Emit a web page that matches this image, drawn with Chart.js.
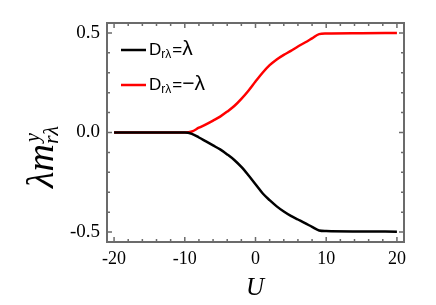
<!DOCTYPE html>
<html>
<head>
<meta charset="utf-8">
<script src="https://cdn.jsdelivr.net/npm/chart.js@4"></script>
<style>
  html, body { margin: 0; padding: 0; background: #fff; }
  #wrap { width: 436px; height: 305px; }
</style>
</head>
<body>
<div id="wrap"><canvas id="myChart"></canvas></div>
<script>
let uValues = [-20, -15, -10, -9, -8, -7, -6, -5, -4, -3, -2, -1, 0, 1, 2, 3, 4, 5, 6, 7, 8, 9, 10, 15, 20];
let blackValues = [0, 0, 0, -0.007, -0.025, -0.045, -0.065, -0.085, -0.11, -0.138, -0.173, -0.215, -0.26,
                   -0.305, -0.34, -0.371, -0.397, -0.419, -0.437, -0.455, -0.474, -0.492, -0.495, -0.497, -0.498];
let redValues = [0, 0, 0, 0.005, 0.024, 0.041, 0.06, 0.08, 0.105, 0.133, 0.169, 0.21, 0.256,
                 0.3, 0.338, 0.367, 0.39, 0.41, 0.432, 0.452, 0.473, 0.494, 0.497, 0.499, 0.5];
let xTicks = [-20, -10, 0, 10, 20];
let yTicks = [-0.5, 0.0, 0.5];
// legend pieces: [text, font size, baseline shift]
let seriesLabels = [
  [['D', 17, 0], ['rλ', 12, 3], ['=', 17, 0], ['λ', 21, 0]],
  [['D', 17, 0], ['rλ', 12, 3], ['=', 17, 0], ['−', 21, 0], ['λ', 21, 0]]
];
let colors = ['#000000', '#ff0000'];

const serif = '"Liberation Serif", "Times New Roman", serif';
const sans = '"Liberation Sans", Arial, sans-serif';
const axisGray = '#6b6b6b';

function points(ys) {
  return uValues.map((u, i) => ({ x: u, y: ys[i] }));
}

// frame with inward ticks on all four sides, plus legend and axis titles
const framePlugin = {
  id: 'frame',
  afterDraw(chart) {
    const ctx = chart.ctx;
    const a = chart.chartArea;
    const xs = chart.scales.x, ys = chart.scales.y;
    ctx.save();
    ctx.strokeStyle = axisGray;
    ctx.lineWidth = 2;
    ctx.strokeRect(a.left, a.top, a.right - a.left, a.bottom - a.top);
    ctx.lineWidth = 1.5;
    ctx.beginPath();
    for (let v = -20; v <= 20; v += 2) {
      const px = xs.getPixelForValue(v);
      const len = (v % 10 === 0) ? 5 : 3;
      ctx.moveTo(px, a.bottom); ctx.lineTo(px, a.bottom - len);
      ctx.moveTo(px, a.top); ctx.lineTo(px, a.top + len);
    }
    for (let k = -5; k <= 5; k++) {
      const py = ys.getPixelForValue(k / 10);
      const len = (k % 5 === 0) ? 5 : 3;
      ctx.moveTo(a.left, py); ctx.lineTo(a.left + len, py);
      ctx.moveTo(a.right, py); ctx.lineTo(a.right - len, py);
    }
    ctx.stroke();

    // legend
    seriesLabels.forEach((parts, i) => {
      const y = 50 + i * 35;
      ctx.strokeStyle = colors[i];
      ctx.lineWidth = 2.5;
      ctx.beginPath();
      ctx.moveTo(121, y); ctx.lineTo(146, y);
      ctx.stroke();
      ctx.fillStyle = '#000';
      ctx.textBaseline = 'alphabetic';
      ctx.textAlign = 'left';
      let x = 149;
      parts.forEach(([t, size, dy]) => {
        ctx.font = size + 'px ' + sans;
        ctx.fillText(t, x, y + 5 + dy);
        x += ctx.measureText(t).width + (size < 15 ? 1 : 0);
      });
    });

    // x title
    ctx.fillStyle = '#000';
    ctx.font = 'italic 25px ' + serif;
    ctx.textAlign = 'center';
    ctx.fillText('U', 255, 295);

    // y title, rotated
    ctx.translate(53, 188);
    ctx.rotate(-Math.PI / 2);
    ctx.textAlign = 'left';
    ctx.font = 'italic 38px ' + serif;
    ctx.fillText('λm', 0, 0);
    const w = ctx.measureText('λm').width + 2;
    ctx.font = 'italic 20px ' + serif;
    ctx.fillText('y', w, -14);
    ctx.font = 'italic 22px ' + serif;
    ctx.fillText('rλ', w - 2, 5);
    ctx.restore();
  }
};

let chart = new Chart(document.getElementById('myChart').getContext('2d'), {
  type: 'line',
  data: {
    datasets: [
      {
        data: points(blackValues),
        borderColor: colors[0],
        borderWidth: 2.5,
        pointRadius: 0,
        cubicInterpolationMode: 'monotone',
        fill: false
      },
      {
        data: points(redValues),
        borderColor: colors[1],
        borderWidth: 2.5,
        pointRadius: 0,
        cubicInterpolationMode: 'monotone',
        fill: false
      }
    ]
  },
  options: {
    responsive: true,
    maintainAspectRatio: false,
    animation: false,
    layout: { padding: { top: 23, right: 32, left: 0, bottom: 0 } },
    plugins: {
      legend: { display: false },
      tooltip: { enabled: false }
    },
    scales: {
      x: {
        type: 'linear',
        min: -21,
        max: 21,
        afterBuildTicks: (s) => { s.ticks = xTicks.map(v => ({ value: v })); },
        afterFit: (s) => { s.height = 63; },
        grid: { display: false, drawTicks: false },
        border: { display: false },
        ticks: {
          padding: 6,
          color: '#000',
          font: { family: serif, size: 18 },
          maxRotation: 0
        }
      },
      y: {
        min: -0.55,
        max: 0.55,
        afterBuildTicks: (s) => { s.ticks = yTicks.map(v => ({ value: v })); },
        afterFit: (s) => { s.width = 107; },
        grid: { display: false, drawTicks: false },
        border: { display: false },
        ticks: {
          padding: 7,
          color: '#000',
          font: { family: serif, size: 19 },
          callback: (v) => Number(v).toFixed(1)
        }
      }
    }
  },
  plugins: [framePlugin]
});
</script>
</body>
</html>
